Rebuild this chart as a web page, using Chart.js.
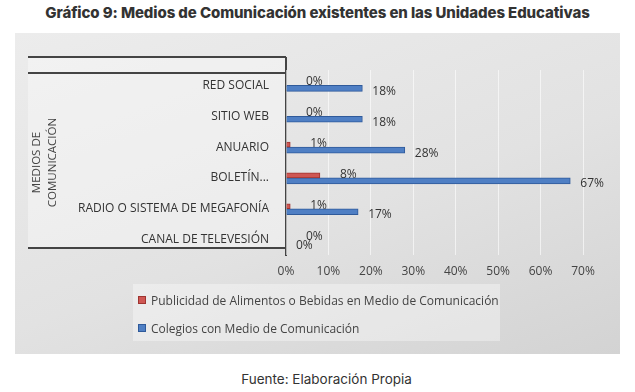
<!DOCTYPE html>
<html>
<head>
<meta charset="utf-8">
<script src="https://cdn.jsdelivr.net/npm/chart.js@4"></script>
<style>
  body { margin: 0; width: 635px; height: 392px; background: #fff; position: relative; overflow: hidden; }
  #title { position: absolute; left: 0; top: 3px; width: 635px; text-align: center;
    font: 800 15px Inter, sans-serif; color: #333; letter-spacing: -0.1px; }
  #panel { position: absolute; left: 15px; top: 33px; width: 605px; height: 321px;
    background: linear-gradient(160deg, #ececec 0%, #e2e2e2 55%, #d3d3d3 100%); }
  #legend { position: absolute; left: 118px; top: 251px; width: 367px; height: 57px;
    background: rgba(255,255,255,0.35); font: 12px "Open Sans", sans-serif; color: #444; }
  .item { position: absolute; left: 5px; white-space: nowrap; }
  .box { display: inline-block; width: 6px; height: 6px; margin-right: 5px; vertical-align: 1px; }
  #footer { position: absolute; left: 9px; top: 371px; width: 635px; text-align: center;
    font: 13.5px Inter, sans-serif; color: #333; }
</style>
</head>
<body>
<div id="title">Gráfico 9: Medios de Comunicación existentes en las Unidades Educativas</div>
<div id="panel">
  <canvas id="chart" width="605" height="321"></canvas>
  <div id="legend">
    <div class="item" style="top:8px"><span class="box" style="background:#cf5753;border:1px solid #9e3430"></span>Publicidad de Alimentos o Bebidas en Medio de Comunicación</div>
    <div class="item" style="top:36px"><span class="box" style="background:#4f7fc4;border:1px solid #2f5a9a"></span>Colegios con Medio de Comunicación</div>
  </div>
</div>
<div id="footer">Fuente: Elaboración Propia</div>
<script>
const categories = ["RED SOCIAL", "SITIO WEB", "ANUARIO", "BOLETÍN...", "RADIO O SISTEMA DE MEGAFONÍA", "CANAL DE TELEVESIÓN"];
const publicidad = [0, 0, 1, 8, 1, 0];
const colegios = [18, 18, 28, 67, 17, 0];
const xTicks = [0, 10, 20, 30, 40, 50, 60, 70];

// back wall, frame lines and axis line
const framePlugin = {
  id: "frame",
  beforeDraw(chart) {
    const { ctx, chartArea: a } = chart;
    ctx.save();
    ctx.fillStyle = "rgba(255,255,255,0.35)";
    ctx.fillRect(13, 24, a.left - 13, a.bottom - 7 - 24);
    ctx.strokeStyle = "#444";
    ctx.lineWidth = 2;
    ctx.beginPath();
    ctx.moveTo(13, 24); ctx.lineTo(a.left, 24);
    ctx.moveTo(13, 40); ctx.lineTo(a.left, 40);
    ctx.moveTo(13, a.bottom - 7); ctx.lineTo(a.left, a.bottom - 7);
    ctx.moveTo(a.left, 24); ctx.lineTo(a.left, a.bottom + 1);
    ctx.stroke();
    ctx.restore();
  }
};

// value labels next to each bar
const labelPlugin = {
  id: "labels",
  afterDatasetsDraw(chart) {
    const { ctx } = chart;
    ctx.save();
    ctx.font = "12px 'Open Sans', sans-serif";
    ctx.fillStyle = "#333";
    ctx.textBaseline = "middle";
    chart.data.datasets.forEach((ds, i) => {
      chart.getDatasetMeta(i).data.forEach((bar, j) => {
        const dx = i === 0 ? 20 : 10;
        const dy = i === 0 ? -1 : 3;
        ctx.fillText(ds.data[j] + "%", bar.x + dx, bar.y + dy);
      });
    });
    ctx.restore();
  }
};

new Chart(document.getElementById("chart"), {
  type: "bar",
  data: {
    labels: categories,
    datasets: [
      {
        label: "Publicidad de Alimentos o Bebidas en Medio de Comunicación",
        data: publicidad,
        backgroundColor: "#cf5753",
        borderColor: "#9e3430",
        borderWidth: 1,
        barThickness: 5,
      },
      {
        label: "Colegios con Medio de Comunicación",
        data: colegios,
        backgroundColor: "#4f7fc4",
        borderColor: "#2f5a9a",
        borderWidth: 1,
        barThickness: 6,
      },
    ],
  },
  options: {
    indexAxis: "y",
    responsive: false,
    animation: false,
    categoryPercentage: 0.36,
    layout: { padding: { top: 37, right: 37 } },
    plugins: { legend: { display: false }, tooltip: { enabled: false } },
    scales: {
      x: {
        min: 0,
        max: 70,
        afterFit: (s) => { s.height = 99; },
        afterBuildTicks: (s) => { s.ticks = xTicks.map((v) => ({ value: v })); },
        grid: { color: "rgba(255,255,255,0.6)", drawTicks: false },
        border: { display: false },
        ticks: {
          padding: 9,
          color: "#444",
          font: { family: "'Open Sans', sans-serif", size: 12 },
          callback: (v) => v + "%",
        },
      },
      y: {
        afterFit: (s) => { s.width = 271; },
        grid: { display: false },
        border: { display: false },
        ticks: {
          padding: 9,
          color: "#333",
          font: { family: "'Open Sans', sans-serif", size: 12 },
        },
        title: {
          display: true,
          text: ["MEDIOS DE", "COMUNICACIÓN"],
          color: "#444",
          padding: { top: 14, bottom: 0 },
          font: { family: "'Open Sans', sans-serif", size: 11.5, lineHeight: 1.35 },
        },
      },
    },
  },
  plugins: [framePlugin, labelPlugin],
});
</script>
</body>
</html>
